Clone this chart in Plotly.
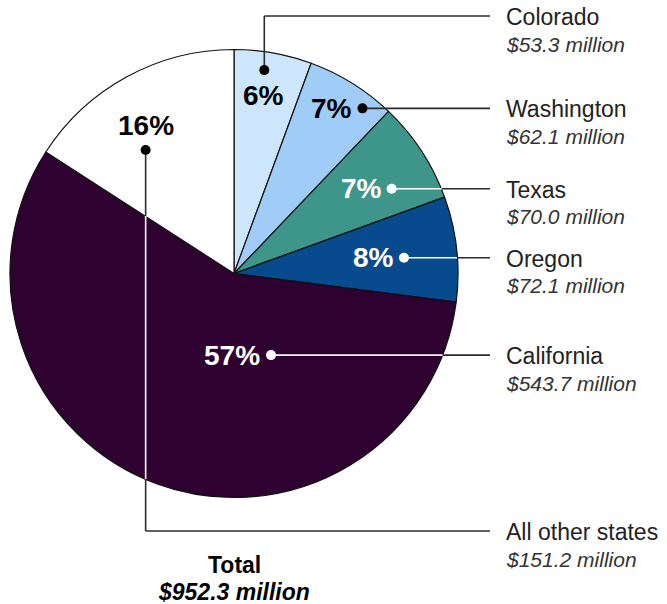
import numpy as np
import plotly.graph_objects as go

# ---------------- data ----------------
states = ["Colorado", "Washington", "Texas", "Oregon", "California", "All other states"]
amounts = [53.3, 62.1, 70.0, 72.1, 543.7, 151.2]      # $ millions
total_amount = 952.3                                   # as printed in the source

# ---------------- style / layout ----------------
colors = ["#cde6fc", "#a0cdf7", "#3e968a", "#074a8d", "#2e0131", "#ffffff"]
dark_slice = [False, False, True, True, True, False]
W, H = 667, 604
cx, cy, R = 234.0, 273.5, 224.0           # pie centre / radius in pixels
FONT = "Liberation Sans, Arial, sans-serif"
INK = "#2b2b2b"

# label anchors: offset from slice mid-angle (deg) and radius fraction
anchor_offset = [-1.6, 6.0, 4.9, 1.0, -44.5, -7.0]
anchor_radius = [0.918, 0.934, 0.799, 0.762, 0.40, 0.678]
pct_dx = [-1, -31, -30, -30, -39, 0]
pct_dy = [25, 0, 0, 0, 0, -24]
elbow_y = [16, None, None, None, None, 531]
line_end_x = 490
label_x = 504


def px(x):
    return x / W


def py(y):
    return 1 - y / H


vals = np.array(amounts, dtype=float)
tot = vals.sum()
end_deg = np.cumsum(vals) / tot * 360.0
start_deg = end_deg - vals / tot * 360.0
mid_deg = (start_deg + end_deg) / 2.0


def slice_at(x, y):
    r = np.hypot(x - cx, y - cy)
    if r > R:
        return None
    ang = np.degrees(np.arctan2(x - cx, cy - y)) % 360.0
    return int(min(np.searchsorted(end_deg, ang, side="right"), len(vals) - 1))


fig = go.Figure()
fig.add_trace(go.Pie(
    labels=states, values=amounts, sort=False, direction="clockwise", rotation=0,
    marker=dict(colors=colors, line=dict(color="#111111", width=1.2)),
    textinfo="none", hoverinfo="skip", showlegend=False,
    domain=dict(x=[px(cx - R), px(cx + R)], y=[py(cy + R), py(cy - R)]),
))

shapes = []
annotations = []


def add_polyline(points):
    # split path into runs coloured by what lies underneath
    runs = []
    for (x0, y0), (x1, y1) in zip(points[:-1], points[1:]):
        n = max(int(np.hypot(x1 - x0, y1 - y0)), 1)
        seg_runs = []
        for k in range(n):
            ax, ay = x0 + (x1 - x0) * k / n, y0 + (y1 - y0) * k / n
            bx, by = x0 + (x1 - x0) * (k + 1) / n, y0 + (y1 - y0) * (k + 1) / n
            s = slice_at((ax + bx) / 2, (ay + by) / 2)
            col = "#ffffff" if (s is not None and dark_slice[s]) else INK
            if seg_runs and seg_runs[-1][0] == col:
                seg_runs[-1][2] = (bx, by)
            else:
                seg_runs.append([col, (ax, ay), (bx, by)])
        runs.extend(seg_runs)
    for col, (ax, ay), (bx, by) in runs:
        shapes.append(dict(type="line", xref="paper", yref="paper",
                           x0=px(ax), y0=py(ay), x1=px(bx), y1=py(by),
                           line=dict(color=col, width=1.6)))


for i, name in enumerate(states):
    ang = np.radians(mid_deg[i] + anchor_offset[i])
    dx_ = cx + anchor_radius[i] * R * np.sin(ang)
    dy_ = cy - anchor_radius[i] * R * np.cos(ang)
    if elbow_y[i] is None:
        pts = [(dx_, dy_), (line_end_x, dy_)]
        ly = dy_
    else:
        pts = [(dx_, dy_), (dx_, elbow_y[i]), (line_end_x, elbow_y[i])]
        ly = elbow_y[i]
    add_polyline(pts)
    dot_col = "#ffffff" if dark_slice[i] else "#000000"
    r_dot = 5
    shapes.append(dict(type="circle", xref="paper", yref="paper",
                       x0=px(dx_ - r_dot), x1=px(dx_ + r_dot),
                       y0=py(dy_ + r_dot), y1=py(dy_ - r_dot),
                       fillcolor=dot_col, line=dict(width=0)))
    pct = int(round(vals[i] / tot * 100))
    annotations.append(dict(
        x=px(dx_ + pct_dx[i]), y=py(dy_ + pct_dy[i]),
        xref="paper", yref="paper", text=f"{pct}%", showarrow=False,
        xanchor="center", yanchor="middle",
        font=dict(family=FONT, size=28, weight="bold",
                  color="#ffffff" if dark_slice[i] else "#000000")))
    annotations.append(dict(
        x=px(label_x), y=py(ly + 1), xref="paper", yref="paper", text=name,
        showarrow=False, xanchor="left", yanchor="middle",
        font=dict(family=FONT, size=23, color="#222222")))
    annotations.append(dict(
        x=px(label_x), y=py(ly + 28), xref="paper", yref="paper",
        text=f"<i>${vals[i]:.1f} million</i>",
        showarrow=False, xanchor="left", yanchor="middle",
        font=dict(family=FONT, size=21, color="#333333")))

annotations.append(dict(x=px(cx), y=py(565), xref="paper", yref="paper",
                        text="Total", showarrow=False, xanchor="center", yanchor="middle",
                        font=dict(family=FONT, size=23, weight="bold", color="#000000")))
annotations.append(dict(x=px(cx), y=py(592), xref="paper", yref="paper",
                        text=f"<i>${total_amount:.1f} million</i>", showarrow=False,
                        xanchor="center", yanchor="middle",
                        font=dict(family=FONT, size=23, weight="bold", color="#000000")))

fig.update_layout(
    width=W, height=H, margin=dict(l=0, r=0, t=0, b=0),
    paper_bgcolor="#ffffff", plot_bgcolor="#ffffff",
    shapes=shapes, annotations=annotations, showlegend=False,
)
fig.write_html(
    "out.html",
    config={"displayModeBar": False},
    post_script="document.body.style.margin='0';document.body.style.padding='0';"
                "document.body.style.overflow='hidden';",
)
